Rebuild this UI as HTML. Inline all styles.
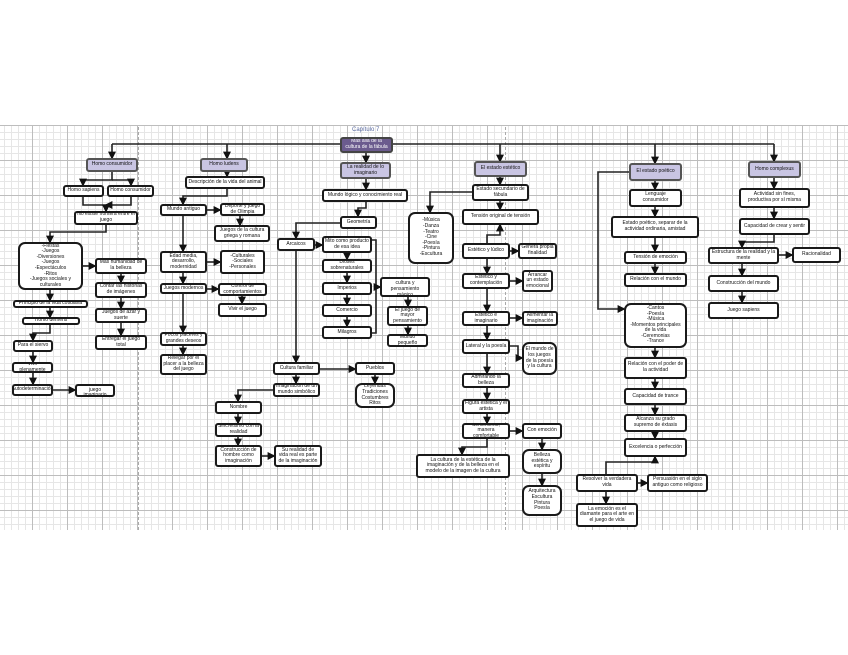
<!DOCTYPE html>
<html><head><meta charset="utf-8"><style>
body{margin:0;width:848px;height:655px;background:#fff;position:relative;overflow:hidden;font-family:"Liberation Sans",sans-serif}
.g{position:absolute;left:-3px;top:125px;width:851px;height:405px;
background-image:
linear-gradient(#bdbdbd 1px,transparent 1px),linear-gradient(90deg,#bdbdbd 1px,transparent 1px),
linear-gradient(#e6e6e6 1px,transparent 1px),linear-gradient(90deg,#e6e6e6 1px,transparent 1px);
background-size:35px 35px,35px 35px,7px 7px,7px 7px;}
.b{position:absolute;box-sizing:border-box;border:2px solid #1a1a1a;border-radius:3px;background:#fff;font-size:5px;line-height:5.6px;display:flex;align-items:center;justify-content:center;text-align:center;color:#111;overflow:hidden;padding:0 1px}
.p{background:#c9c5e3;border-color:#555}
.d{background:#6b5b8e;color:#fff;border-color:#444}
.r{border-radius:7px}
svg{position:absolute;left:0;top:0}
</style></head><body>
<div class="g"></div>
<div style="position:absolute;left:138px;top:127px;height:403px;border-left:1px dashed #aaa"></div>
<div style="position:absolute;left:505px;top:127px;height:403px;border-left:1px dashed #aaa"></div>
<svg width="848" height="655" viewBox="0 0 848 655">
<defs><marker id="a" markerWidth="5" markerHeight="5" refX="4" refY="2.5" orient="auto"><path d="M0,0L5,2.5L0,5z" fill="#111"/></marker></defs>
<g stroke="#222" stroke-width="1.6" fill="none" marker-end="url(#a)">
<path d="M112,144H774" marker-end="none"/>
<path d="M112,144V158"/><path d="M227,144V158"/><path d="M366,153V162"/><path d="M500,144V161"/><path d="M655,144V163"/><path d="M774,144V161"/>
<path d="M112,172V180H83V185"/><path d="M112,180H131V185"/>
<path d="M83,197V205H106V211"/><path d="M131,197V205H106"/>
<path d="M106,225V232H50V242"/><path d="M83,266H95"/>
<path d="M121,274V282"/><path d="M121,298V308"/><path d="M121,323V335"/>
<path d="M50,290V300"/><path d="M50,308V317"/><path d="M50,325V333H33V340"/><path d="M33,352V362"/><path d="M33,373V384"/><path d="M53,390H75"/>
<path d="M227,172V176"/><path d="M227,189V196H183V204"/><path d="M207,210H220"/><path d="M240,216V225"/><path d="M183,216V251"/><path d="M207,262H220"/><path d="M183,273V283"/><path d="M207,289H218"/><path d="M242,296V303"/><path d="M183,294V332"/><path d="M183,346V354"/>
<path d="M366,179V189"/><path d="M366,202V208H358V216"/><path d="M340,223H296V238"/><path d="M315,245H322"/>
<path d="M347,253V259"/><path d="M347,273V282"/><path d="M347,295V304"/><path d="M347,317V326"/>
<path d="M372,240H376V333H372" marker-end="none"/><path d="M376,287H380"/>
<path d="M408,297V306"/><path d="M408,326V334"/>
<path d="M296,251V362"/><path d="M320,369H355"/><path d="M375,375V383"/><path d="M296,375V383"/>
<path d="M273,390H238V401"/><path d="M238,414V423"/><path d="M238,437V445"/><path d="M262,456H274"/>
<path d="M500,177V184"/><path d="M500,201V209"/><path d="M472,192H430V212"/><path d="M487,243V235H500V225"/>
<path d="M510,251H518"/><path d="M487,259V273"/><path d="M510,281H522"/><path d="M487,289V311"/><path d="M510,318H522"/><path d="M487,326V339"/><path d="M510,346H518V358H522"/>
<path d="M487,354V373"/><path d="M487,388V399"/><path d="M487,414V423"/><path d="M510,431H522"/><path d="M542,439V449"/><path d="M542,474V485"/><path d="M487,439V447H462V454"/>
<path d="M655,181V189"/><path d="M655,207V216"/><path d="M655,238V251"/><path d="M655,264V273"/><path d="M629,172H598V309H624"/>
<path d="M655,348V357"/><path d="M655,379V388"/><path d="M655,405V414"/><path d="M655,432V438"/><path d="M606,474V462H655V457"/><path d="M638,483H647"/><path d="M606,492V503"/>
<path d="M774,178V188"/><path d="M774,208V218"/><path d="M774,235V242H742V247"/><path d="M779,255H792"/><path d="M742,264V275"/><path d="M742,292V302"/>
</g></svg>
<div style="position:absolute;left:352px;top:127px;font-size:6px;color:#5a6aa0">Capítulo 7</div>
<div class="b d" style="left:340px;top:137px;width:53px;height:16px">Más allá de la cultura de la fábula</div>
<div class="b p" style="left:86px;top:158px;width:52px;height:14px">Homo consumidor</div>
<div class="b p" style="left:200px;top:158px;width:48px;height:14px">Homo ludens</div>
<div class="b p" style="left:340px;top:162px;width:51px;height:17px">La realidad de lo imaginario</div>
<div class="b p" style="left:474px;top:161px;width:53px;height:16px">El estado estético</div>
<div class="b p" style="left:629px;top:163px;width:53px;height:18px">El estado poético</div>
<div class="b p" style="left:748px;top:161px;width:53px;height:17px">Homo complexus</div>

<div class="b" style="left:63px;top:185px;width:41px;height:12px">Homo sapiens</div>
<div class="b" style="left:107px;top:185px;width:47px;height:12px">Homo consumidor</div>
<div class="b" style="left:74px;top:211px;width:64px;height:14px">No existe frontera entre el juego</div>
<div class="b r" style="left:18px;top:242px;width:65px;height:48px">-Fiestas<br>-Juegos<br>-Diversiones<br>-Juegos<br>-Espectáculos<br>-Ritos<br>-Juegos sociales y culturales</div>
<div class="b" style="left:95px;top:258px;width:52px;height:16px">Más humanidad de la belleza</div>
<div class="b" style="left:95px;top:282px;width:52px;height:16px">Contar las historias de imágenes</div>
<div class="b" style="left:95px;top:308px;width:52px;height:15px">Juegos de azar y suerte</div>
<div class="b" style="left:95px;top:335px;width:52px;height:15px">Entregar el juego total</div>
<div class="b" style="left:13px;top:300px;width:75px;height:8px">Principio de la vida cotidiana</div>
<div class="b" style="left:22px;top:317px;width:58px;height:8px">Homo demens</div>
<div class="b" style="left:13px;top:340px;width:40px;height:12px">Para el siervo</div>
<div class="b" style="left:12px;top:362px;width:41px;height:11px">Vivir plenamente</div>
<div class="b" style="left:12px;top:384px;width:41px;height:12px">Autodeterminación</div>
<div class="b" style="left:75px;top:384px;width:40px;height:13px">Un sistema de juego imaginario</div>

<div class="b" style="left:185px;top:176px;width:80px;height:13px">Descripción de la vida del animal</div>
<div class="b" style="left:160px;top:204px;width:47px;height:12px">Mundo antiguo</div>
<div class="b" style="left:220px;top:203px;width:45px;height:13px">Deporte y juego de Olimpia</div>
<div class="b" style="left:214px;top:225px;width:56px;height:17px">Juegos de la cultura griega y romana</div>
<div class="b" style="left:160px;top:251px;width:47px;height:22px">Edad media, desarrollo, modernidad</div>
<div class="b" style="left:220px;top:250px;width:45px;height:24px">-Culturales<br>-Sociales<br>-Personales</div>
<div class="b" style="left:160px;top:283px;width:47px;height:11px">Juegos modernos</div>
<div class="b" style="left:218px;top:283px;width:49px;height:13px">Control de comportamientos</div>
<div class="b" style="left:218px;top:303px;width:49px;height:14px">Vivir el juego</div>
<div class="b" style="left:160px;top:332px;width:47px;height:14px">Pocos placeres y grandes deseos</div>
<div class="b" style="left:160px;top:354px;width:47px;height:21px">Relegar por el placer a la belleza del juego</div>

<div class="b" style="left:322px;top:189px;width:86px;height:13px">Mundo lógico y conocimiento real</div>
<div class="b" style="left:340px;top:216px;width:37px;height:13px">Geometría</div>
<div class="b" style="left:277px;top:238px;width:38px;height:13px">Arcaicos</div>
<div class="b" style="left:322px;top:236px;width:50px;height:17px">Mito como producto de esa idea</div>
<div class="b" style="left:322px;top:259px;width:50px;height:14px">Dioses sobrenaturales</div>
<div class="b" style="left:322px;top:282px;width:50px;height:13px">Imperios</div>
<div class="b" style="left:322px;top:304px;width:50px;height:13px">Comercio</div>
<div class="b" style="left:322px;top:326px;width:50px;height:13px">Milagros</div>
<div class="b" style="left:380px;top:277px;width:50px;height:20px">Nociones de cultura y pensamiento mágico</div>
<div class="b" style="left:387px;top:306px;width:41px;height:20px">El juego de mayor pensamiento</div>
<div class="b" style="left:387px;top:334px;width:41px;height:13px">Mundo pequeño</div>
<div class="b" style="left:273px;top:362px;width:47px;height:13px">Cultura familiar</div>
<div class="b" style="left:355px;top:362px;width:40px;height:13px">Pueblos</div>
<div class="b" style="left:273px;top:383px;width:47px;height:14px">Imaginación de un mundo simbólico</div>
<div class="b r" style="left:355px;top:383px;width:40px;height:25px">Leyendas<br>Tradiciones<br>Costumbres<br>Ritos</div>
<div class="b" style="left:215px;top:401px;width:47px;height:13px">Nombre</div>
<div class="b" style="left:215px;top:423px;width:47px;height:14px">Sincretismo con la realidad</div>
<div class="b" style="left:215px;top:445px;width:47px;height:22px">Construcción de hombre como imaginación</div>
<div class="b" style="left:274px;top:445px;width:48px;height:22px">Su realidad de vida real es parte de la imaginación</div>

<div class="b" style="left:472px;top:184px;width:57px;height:17px">Estado secundario de fábula</div>
<div class="b" style="left:462px;top:209px;width:77px;height:16px">Tensión original de tensión</div>
<div class="b r" style="left:408px;top:212px;width:46px;height:52px">-Música<br>-Danza<br>-Teatro<br>-Cine<br>-Poesía<br>-Pintura<br>-Escultura</div>
<div class="b" style="left:462px;top:243px;width:48px;height:16px">Estético y lúdico</div>
<div class="b" style="left:518px;top:243px;width:39px;height:16px">Genera propia finalidad</div>
<div class="b" style="left:462px;top:273px;width:48px;height:16px">Estético y contemplación</div>
<div class="b" style="left:522px;top:270px;width:31px;height:22px">Arrancar un estado emocional</div>
<div class="b" style="left:462px;top:311px;width:48px;height:15px">Estético e imaginario</div>
<div class="b" style="left:522px;top:311px;width:36px;height:15px">Alimentar la imaginación</div>
<div class="b" style="left:462px;top:339px;width:48px;height:15px">Lateral y la poesía</div>
<div class="b r" style="left:522px;top:342px;width:35px;height:33px">El mundo de los juegos de la poesía y la cultura</div>
<div class="b" style="left:462px;top:373px;width:48px;height:15px">Admirando la belleza</div>
<div class="b" style="left:462px;top:399px;width:48px;height:15px">Figura estética y el artista</div>
<div class="b" style="left:462px;top:423px;width:48px;height:16px">Sentimiento, manera comfortable</div>
<div class="b" style="left:522px;top:423px;width:40px;height:16px">Con emoción</div>
<div class="b" style="left:416px;top:454px;width:94px;height:24px">La cultura de la estética de la imaginación y de la belleza en el modelo de la imagen de la cultura</div>
<div class="b r" style="left:522px;top:449px;width:40px;height:25px">Belleza estética y espíritu</div>
<div class="b r" style="left:522px;top:485px;width:40px;height:31px">Arquitectura<br>Escultura<br>Pintura<br>Poesía</div>

<div class="b" style="left:629px;top:189px;width:53px;height:18px">Lenguaje consumidor</div>
<div class="b" style="left:611px;top:216px;width:88px;height:22px">Estado poético, separar de la actividad ordinaria, amistad</div>
<div class="b" style="left:624px;top:251px;width:63px;height:13px">Tensión de emoción</div>
<div class="b" style="left:624px;top:273px;width:63px;height:14px">Relación con el mundo</div>
<div class="b r" style="left:624px;top:303px;width:63px;height:45px">-Cantos<br>-Poesía<br>-Música<br>-Momentos principales de la vida<br>-Ceremonias<br>-Trance</div>
<div class="b" style="left:624px;top:357px;width:63px;height:22px">Relación con el poder de la actividad</div>
<div class="b" style="left:624px;top:388px;width:63px;height:17px">Capacidad de trance</div>
<div class="b" style="left:624px;top:414px;width:63px;height:18px">Alcanza su grado supremo de éxtasis</div>
<div class="b" style="left:624px;top:438px;width:63px;height:19px">Excelencia o perfección</div>
<div class="b" style="left:576px;top:474px;width:62px;height:18px">Resolver la verdadera vida</div>
<div class="b" style="left:647px;top:474px;width:61px;height:18px">Persuasión en el siglo antiguo como religioso</div>
<div class="b" style="left:576px;top:503px;width:62px;height:24px">La emoción es el diamante para el arte en el juego de vida</div>

<div class="b" style="left:739px;top:188px;width:71px;height:20px">Actividad sin fines, productiva por sí misma</div>
<div class="b" style="left:739px;top:218px;width:71px;height:17px">Capacidad de crear y sentir</div>
<div class="b" style="left:708px;top:247px;width:71px;height:17px">Estructura de la realidad y la mente</div>
<div class="b" style="left:792px;top:247px;width:49px;height:16px">Racionalidad</div>
<div class="b" style="left:708px;top:275px;width:71px;height:17px">Construcción del mundo</div>
<div class="b" style="left:708px;top:302px;width:71px;height:17px">Juego sapiens</div>
</body></html>
